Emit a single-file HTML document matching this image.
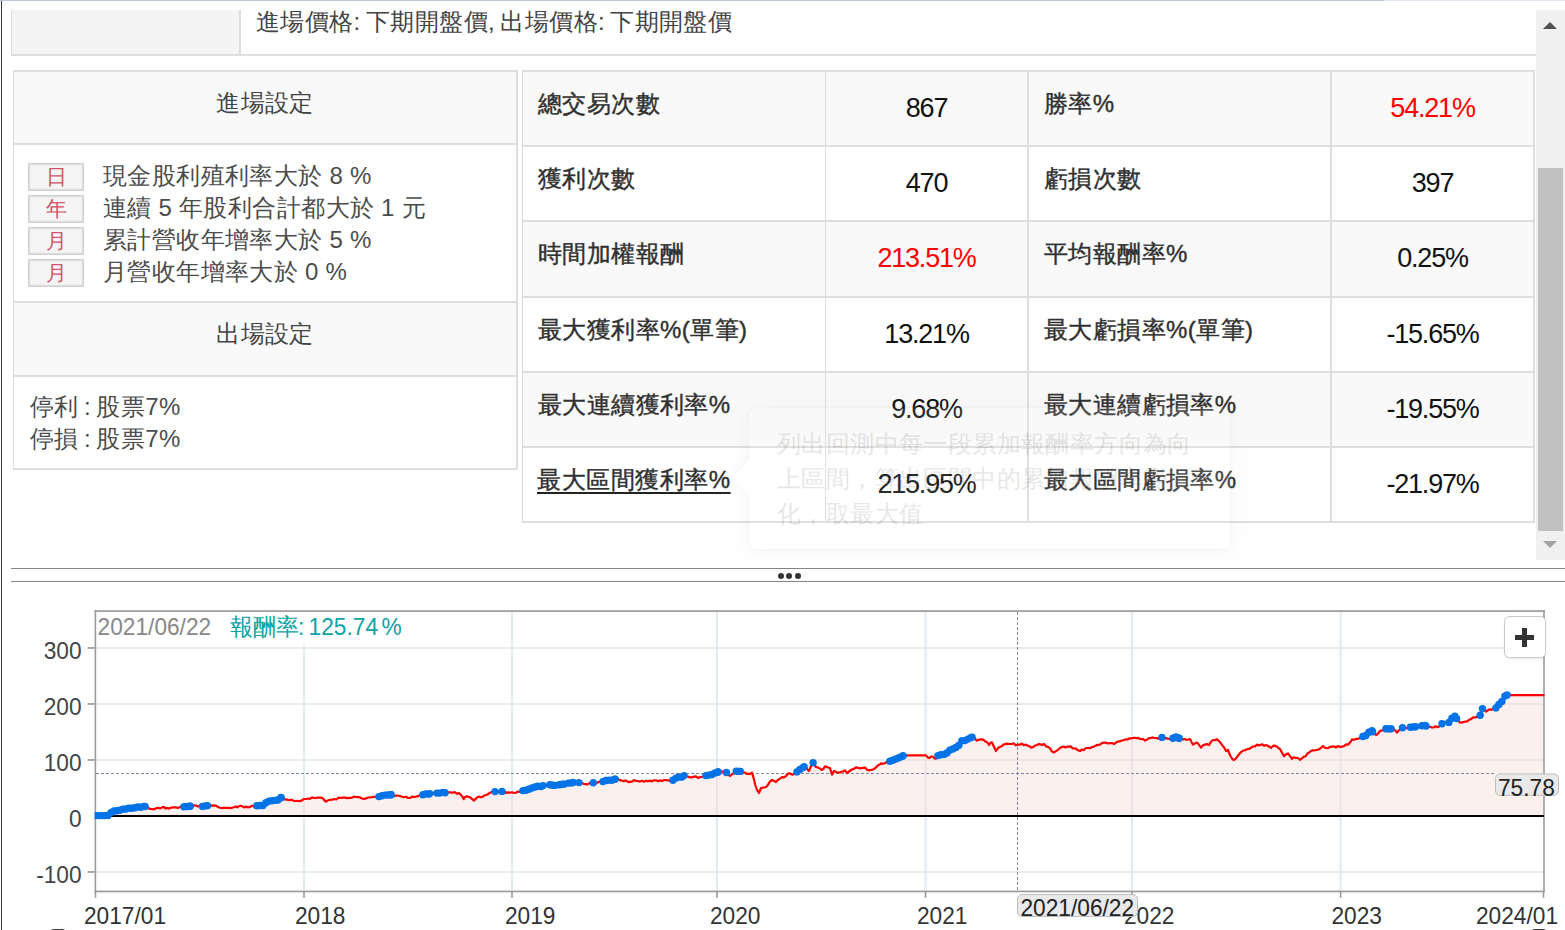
<!DOCTYPE html>
<html lang="zh-Hant">
<head>
<meta charset="utf-8">
<title>回測報告</title>
<style>
html,body{margin:0;padding:0}
body{position:relative;width:1565px;height:930px;overflow:hidden;background:#fff;color:#444;
  font-family:"Liberation Sans",sans-serif;font-size:24px;letter-spacing:.4px}
*{box-sizing:border-box}
.abs{position:absolute}
#topline{position:absolute;left:0;top:0;width:1565px;height:1px;background:#dbe3ee}
#topline i{position:absolute;left:0;top:0;width:1384px;height:1px;background:#bcc7d6}
#leftedge{position:absolute;left:1px;top:1px;width:1px;height:929px;background:#3a3a3a}

.j{text-align:justify;text-align-last:justify}
/* upper scroll pane */
#upper{position:absolute;left:0;top:10px;width:1565px;height:550px;overflow:hidden}

/* price bar (clipped top row) */
#pricebar{position:absolute;left:11px;top:-20px;width:1525px;height:66px;border-bottom:2px solid #dedede}
#pricebar .k{position:absolute;left:0;top:0;width:230px;height:64px;background:#f4f4f4;
  border-left:1px solid #dcdcdc;border-right:2px solid #dedede}
#pricebar .v{position:absolute;left:245px;top:18px;word-spacing:-1.8px;height:28px;line-height:28px;white-space:nowrap;color:#444}

/* entry / exit settings */
#entry{position:absolute;left:13px;top:60px;width:505px;height:400px;
  border:2px solid #dedede;border-left-width:1px;background:#fff}
#entry .h{position:absolute;left:0;width:502px;background:#f9f9f9;text-align:center;color:#444;
  border-bottom:2px solid #dedede}
#entry .h span{position:absolute;left:202.2px;width:97.7px;height:28px;line-height:28px}
#entry .h1{top:0;height:73px}
#entry .h1 span{top:17px}
#entry .h2{top:229px;height:76px;border-top:2px solid #dedede}
#entry .h2 span{top:17px}
.cond{position:absolute;left:14px;height:32px;width:480px;white-space:nowrap}
.cond b{position:absolute;left:0;top:2px;width:56px;height:28px;border:1px solid #d0d0d0;border-radius:0;
  background:#f5f5f5;box-shadow:inset 0 0 0 1px #dedede,inset 0 0 3px 1px #e6e6e6;color:#cc5566;font-weight:normal;font-size:20.5px;
  line-height:26px;text-align:center;letter-spacing:0}
.cond span{position:absolute;left:75px;top:-1px;word-spacing:-.3px;height:32px;line-height:32px;color:#4c4c4c}
.exitl{position:absolute;left:16px;word-spacing:-1.8px;height:32px;line-height:32px;white-space:nowrap;color:#4c4c4c}

/* stats table */
#stats{position:absolute;left:522px;top:60px;border-collapse:separate;border-spacing:0;table-layout:fixed;
  width:1013px;border-top:2px solid #dedede;border-left:1px solid #d8d8d8}
#stats td{height:75px;padding:0;border-bottom:2px solid #dedede;border-right:2px solid #dedede;
  vertical-align:top;white-space:nowrap;overflow:hidden}
#stats tr.g td{background:#f9f9f9}
#stats tr.r3 td{height:76px}
#stats td.l{font-weight:normal;color:#303030;-webkit-text-stroke:.4px #303030;padding-left:15px}
#stats td.l span{display:block;height:28px;line-height:28px;margin-top:18px}
#stats td.l1{border-right:1px solid #dcdcdc}
#stats td.n{text-align:center;color:#111;font-size:27px;letter-spacing:-1.2px}
#stats td.n span{display:block;height:30px;line-height:30px;margin-top:20.5px}
#stats td.red{color:#f00}
#stats u{text-decoration:underline;text-decoration-thickness:2.4px;text-underline-offset:4px;text-decoration-skip-ink:none;text-decoration-color:#222;padding-right:3px;margin-left:-1px}

/* fading tooltip */
#tip{position:absolute;left:748px;top:397px;width:483px;height:143px;border-radius:9px;background:#fff;
  box-shadow:0 3px 16px rgba(0,0,0,.35);opacity:.105;color:#222;border:1px solid rgba(0,0,0,.3)}
#tip p{position:absolute;left:28px;top:18px;margin:0;width:430px;line-height:35.2px}
#tip i{position:absolute;left:-14px;top:57px;width:26px;height:26px;background:#fff;transform:rotate(45deg);border-left:1px solid rgba(0,0,0,.3);border-bottom:1px solid rgba(0,0,0,.3);box-shadow:-3px 3px 8px rgba(0,0,0,.15)}

/* scrollbar */
#sb{position:absolute;left:1536px;top:0;width:29px;height:550px;background:#f0f0f0}
#sb .th{position:absolute;left:2px;top:158px;width:25px;height:363px;background:#c1c1c1}
#sb .up{position:absolute;left:7px;top:12px;width:0;height:0;border-left:7px solid transparent;
  border-right:7px solid transparent;border-bottom:7px solid #505050}
#sb .dn{position:absolute;left:7px;top:531px;width:0;height:0;border-left:7px solid transparent;
  border-right:7px solid transparent;border-top:7px solid #a3a3a3}

/* splitter */
#split{position:absolute;left:11px;top:568px;width:1554px;height:14px;border-top:1px solid #858585;
  border-bottom:1px solid #858585}
#split span{position:absolute;top:4px;width:6px;height:6px;border-radius:3px;background:#333}

/* chart */
#chart{position:absolute;left:0;top:590px;width:1565px;height:340px}
#chart svg{position:absolute;left:0;top:0}
#chart text{font-family:"Liberation Sans",sans-serif;font-size:22.7px;letter-spacing:0}
#plus{position:absolute;left:1504px;top:26px;width:42px;height:42px;border:1px solid #c9c9c9;border-radius:5.5px;
  background:#fff;box-shadow:0 1px 2px rgba(0,0,0,.08)}
#plus i{position:absolute;background:#333}
#plus .hb{left:9.6px;top:18px;width:19.2px;height:5px}
#plus .vb{left:16.6px;top:11.2px;width:5.2px;height:18.6px}
.knob{position:absolute;top:339px;width:18px;height:10px;border-radius:9px;background:#3b3b3b}
</style>
</head>
<body>
<div id="topline"><i></i></div>
<div id="leftedge"></div>

<div id="upper">
  <div id="pricebar">
    <div class="k"></div>
    <div class="v j" style="width:476.3px">進場價格: 下期開盤價, 出場價格: 下期開盤價</div>
  </div>

  <div id="entry">
    <div class="h h1"><span class="j">進場設定</span></div>
    <div class="cond" style="top:89px"><b>日</b><span class="j" style="width:268.7px">現金股利殖利率大於 8 %</span></div>
    <div class="cond" style="top:121px"><b>年</b><span class="j" style="width:323.0px">連續 5 年股利合計都大於 1 元</span></div>
    <div class="cond" style="top:153px"><b>月</b><span class="j" style="width:268.7px">累計營收年增率大於 5 %</span></div>
    <div class="cond" style="top:185px"><b>月</b><span class="j" style="width:244.3px">月營收年增率大於 0 %</span></div>
    <div class="h h2"><span class="j">出場設定</span></div>
    <div class="exitl j" style="top:318.5px;width:150.8px">停利 : 股票7%</div>
    <div class="exitl j" style="top:350.5px;width:150.8px">停損 : 股票7%</div>
  </div>

  <table id="stats">
    <colgroup><col style="width:303px"><col style="width:203px"><col style="width:303px"><col style="width:203px"></colgroup>
    <tr class="g"><td class="l l1"><span class="j" style="width:122.1px">總交易次數</span></td><td class="n"><span>867</span></td><td class="l"><span class="j" style="width:70.6px">勝率%</span></td><td class="n red"><span>54.21%</span></td></tr>
    <tr><td class="l l1"><span class="j" style="width:97.7px">獲利次數</span></td><td class="n"><span>470</span></td><td class="l"><span class="j" style="width:97.7px">虧損次數</span></td><td class="n"><span>397</span></td></tr>
    <tr class="g r3"><td class="l l1"><span class="j" style="width:146.5px">時間加權報酬</span></td><td class="n red"><span>213.51%</span></td><td class="l"><span class="j" style="width:143.8px">平均報酬率%</span></td><td class="n"><span>0.25%</span></td></tr>
    <tr><td class="l l1"><span class="j" style="width:209.4px">最大獲利率%(單筆)</span></td><td class="n"><span>13.21%</span></td><td class="l"><span class="j" style="width:209.4px">最大虧損率%(單筆)</span></td><td class="n"><span>-15.65%</span></td></tr>
    <tr class="g"><td class="l l1"><span class="j" style="width:192.6px">最大連續獲利率%</span></td><td class="n"><span>9.68%</span></td><td class="l"><span class="j" style="width:192.6px">最大連續虧損率%</span></td><td class="n"><span>-19.55%</span></td></tr>
    <tr><td class="l l1"><span class="j" style="width:195.6px"><u>最大區間獲利率%</u></span></td><td class="n"><span>215.95%</span></td><td class="l"><span class="j" style="width:192.6px">最大區間虧損率%</span></td><td class="n"><span>-21.97%</span></td></tr>
  </table>

  <div id="tip"><i></i><p>列出回測中每一段累加報酬率方向為向上區間，算出區間中的累加報酬率變化，取最大值</p></div>

  <div id="sb"><div class="up"></div><div class="th"></div><div class="dn"></div></div>
</div>

<div id="split"><span style="left:767px"></span><span style="left:775px"></span><span style="left:784px"></span></div>

<div id="chart">
<svg width="1565" height="340" viewBox="0 0 1565 340">
<defs><clipPath id="pc"><rect x="94.6" y="21" width="1450" height="281"/></clipPath></defs>
<rect x="96" y="21" width="1448" height="280" fill="#fff"/>
<rect x="96" y="57" width="1448" height="2" fill="#ebebeb"/>
<rect x="96" y="113" width="1448" height="2" fill="#ebebeb"/>
<rect x="96" y="169" width="1448" height="2" fill="#ebebeb"/>
<rect x="96" y="281" width="1448" height="2" fill="#ebebeb"/>
<rect x="303" y="21" width="2" height="280" fill="#dfeaf3"/>
<rect x="511" y="21" width="2" height="280" fill="#dfeaf3"/>
<rect x="716" y="21" width="2" height="280" fill="#dfeaf3"/>
<rect x="924.5" y="21" width="2" height="280" fill="#dfeaf3"/>
<rect x="1131" y="21" width="2" height="280" fill="#dfeaf3"/>
<rect x="1339.6" y="21" width="2" height="280" fill="#dfeaf3"/>
<path d="M96,226 L96,225.6 L108,225.6 L110,223.5 L112,222 L114,220.9 L116,221.4 L118,219.9 L120,220.4 L122,219.6 L124,218.6 L126,219 L128,218.8 L130,217.8 L132,218.3 L134,217.4 L136,218 L138,216.9 L140,217.1 L142,217.4 L144,216.4 L146,216.6 L148,217.6 L150,219 L152,219 L154,219.3 L156,218.3 L158,217.7 L160,218.5 L162,217.4 L163.8,216.9 L165.5,218.6 L167.2,217.9 L169,218.6 L171.2,217.6 L173.4,217.3 L175.6,217.3 L177.8,217.9 L180,217 L182,216.3 L184,216.8 L186,216.8 L188,216.1 L190,216.3 L192,216 L194,215.3 L196,215.5 L198,216.4 L200,215.7 L202,216.5 L204,216 L206,215.8 L208,215.5 L210,216 L212,215.6 L214,215.3 L216,215.6 L218,217 L220,217.7 L222,218.2 L224,217.6 L226,218 L228,217.7 L230,218.2 L232,217.8 L234,217.2 L235.7,216.5 L237.3,217.4 L239,216.2 L240.8,215.8 L242.6,216.5 L244.4,217.4 L246.2,216.5 L248,217.4 L250,216.9 L252,215.7 L254,216.4 L256,215.6 L258,215.9 L260,215.4 L262,215.8 L264,215 L266,212.7 L268,211 L270,211.2 L272,210.8 L274,210.5 L276,210.1 L278,210 L280,208.8 L282,206.4 L283.5,208.7 L285,209.4 L287.2,209.7 L289.4,210.3 L291.6,209.6 L293.8,211 L296,211 L298,210.9 L300,211.1 L302,210.4 L304,209 L306,209 L308,208.5 L310,208.8 L312,207.4 L314,208 L315.8,208 L317.6,207.6 L319.4,207.6 L321.2,207.5 L323,208.4 L324.5,210.5 L326,211.6 L328,210.3 L330,209.8 L332,209.6 L334.2,209 L336.4,209.5 L338.6,207.6 L340.8,207.9 L343,207.6 L345.2,207.6 L347.3,208.1 L349.5,207.9 L351.7,207.9 L353.8,206.7 L356,207 L358,207.1 L360,207.3 L362,208.5 L364,208.9 L366,208.4 L368,207.5 L370,207.3 L372,207.1 L374,206.8 L376,207 L378,206.7 L380,206.6 L382,205.7 L384,204.9 L386,205.4 L388,205 L390,205 L392,204.6 L394,205.8 L396,205.6 L398,205.7 L400,206 L402,206.7 L404,207.3 L406,206.7 L408,208 L410,208 L412,206.6 L414,206.8 L416,206.6 L418,206.2 L420,205.1 L422,205 L424,204.6 L426,203.9 L428,204.6 L430,203.4 L432,204 L434,203.1 L436,203.2 L438,203 L440,203.1 L442,202.5 L444,202.2 L446,203 L448.2,202.4 L450.3,202.3 L452.5,202.8 L454.7,202.1 L456.8,203.7 L459,203 L460.5,204.7 L462,206 L463.6,209 L465,207 L467,206.4 L469,207 L470.7,207.8 L472.3,209.1 L474,210.6 L475.5,208.9 L477,207.6 L478.8,206.4 L480.6,207.2 L482.4,206.9 L484.2,205.5 L486,205 L487.8,204.3 L489.6,202.9 L491.4,202.2 L493.2,202 L495,201.6 L496.8,201.1 L498.5,202.1 L500.2,200.8 L502,201.4 L504,200.9 L506,202.9 L508,202.4 L510,202.7 L512,202.2 L514,203 L516,202.7 L518,201.5 L520,202 L522,201.1 L524,200 L526,200.4 L528,199.7 L530,198.9 L532,198 L534.2,197.1 L536.4,196.8 L538.6,196 L540.8,196.6 L543,195.6 L544.8,195.5 L546.6,195.9 L548.4,194.9 L550.2,194.6 L552,195 L554,195.4 L556,195.5 L558,195 L560,194.8 L562,194 L563.8,194.4 L565.6,194 L567.4,192.9 L569.2,193.2 L571,193 L572.8,192.6 L574.5,192 L576.2,191.9 L578,192.6 L580,192.7 L582,193.1 L584,194 L585.8,194.1 L587.6,194.3 L589.4,193.1 L591.2,193.7 L593,192.6 L594.8,193.4 L596.6,193.2 L598.4,192 L600.2,191.6 L602,192 L604,191 L606,190.5 L608,190 L610,190.3 L612,190.3 L614,189.7 L616,188.6 L618,189.2 L620,190.2 L622,190.6 L623.8,191.3 L625.6,190.3 L627.4,191.5 L629.2,192.1 L631,191.6 L632.5,191.3 L634,190 L636,191 L638,191 L640,191.6 L642,190.8 L644,191.7 L646,190.7 L648,191.3 L650,190.6 L652,191.4 L654,190.3 L656,190.3 L658,191.2 L660,190.4 L662,190.9 L664,190 L666,190.1 L668,190.3 L670,191 L672,190.7 L674,189.6 L676,188 L678,186.8 L680,187.4 L682,187.1 L684,185.6 L686,186.5 L688,186.5 L690,187.4 L692,187.4 L694,186.6 L696,186.3 L698,187.9 L700,187 L702,186.8 L704,186.1 L706,185.6 L708,185.8 L710,184.3 L712,184.5 L714,183.8 L716,182.1 L718,182 L720,181.6 L722,181.6 L724,181.5 L726,182 L728,184.2 L730,186 L732,184.2 L734,183.2 L736,181.3 L738,180.6 L739.7,181.7 L741.3,181 L743,181.6 L745,182.7 L747,184 L748.7,183.7 L750.3,183.8 L752,182.6 L753.7,188.3 L755.3,195 L757,200 L759,203 L761,198 L762.7,197.7 L764.3,197.4 L766,197 L768,194.7 L770,191.5 L772,190 L774,190.9 L776,192 L778,189.7 L780,188.6 L782,187.1 L784,187.4 L786,186 L788,183.6 L789.7,183.3 L791.3,184.2 L793,184.6 L794.7,183.8 L796.3,182.3 L798,181 L799.8,179.4 L801.5,178.5 L803.2,177.3 L805,176 L807,179 L809,181 L811,176.1 L813,172.6 L814.5,174.9 L816,177 L818,177.5 L820,178.6 L822,180 L823.5,178.7 L825,176.4 L826.7,176.9 L828.3,177.6 L830,178 L832,184.6 L834,181 L836,181.9 L838,182.7 L840,182.4 L841.7,181.6 L843.3,181.3 L845,180.4 L847,183 L849,181.5 L851,180 L852.7,179.2 L854.3,178.6 L856,177.4 L858,177.8 L860,178.4 L861.7,178.2 L863.3,177.8 L865,177.6 L867,179.8 L869,180.4 L870.8,180 L872.5,179.6 L874.2,178.9 L876,177.4 L877.7,175.6 L879.3,174.8 L881,173.4 L883,173.8 L885,173.3 L887,171.7 L889,172 L890.8,170.6 L892.6,170.5 L894.4,169.2 L896.2,168.8 L898,168.6 L900,166.6 L902,166.5 L904,165 L906,165.7 L908,165.4 L926,165.4 L928,167.6 L929.5,167.8 L931,166.6 L932.7,166.6 L934.3,168.3 L936,168.6 L938,165.4 L940,165.4 L942,164.1 L944,164.4 L946,163.6 L948,162.3 L950,160 L952,158.6 L954,159.1 L956,157.3 L958,156.6 L960,153.6 L962,150.6 L964,150.9 L966,150.1 L968,149 L969.7,147.7 L971.3,147.5 L973,147 L975,148.8 L977,150.6 L978.7,149.9 L980.3,149.3 L982,149.4 L983.7,149.9 L985.3,151.5 L987,152 L989,155 L990.5,152.8 L992,152.4 L994,156.8 L996,161 L998,158 L1000,156.9 L1002,156 L1003.7,154.3 L1005.3,154.1 L1007,153.6 L1009.2,154 L1011.4,154 L1013.6,153.4 L1015.8,155.3 L1018,154.6 L1020,154.6 L1022,153.6 L1023.8,155.2 L1025.6,154.5 L1027.4,155.6 L1029.2,156 L1031,157.6 L1033,157.2 L1035,155.5 L1037,155 L1038.8,154.1 L1040.5,154.4 L1042.2,155 L1044,154 L1046,156.3 L1048,156.9 L1050,158.4 L1052,161.5 L1054,162.4 L1056,161.1 L1058,159.8 L1060,158 L1061.8,157 L1063.6,156.6 L1065.4,157.5 L1067.2,156.7 L1069,156.6 L1070.8,156.3 L1072.5,158.4 L1074.2,158.3 L1076,158.6 L1078,160.3 L1080,161 L1082,159.5 L1084,160.1 L1086,158 L1088,158 L1090,158.2 L1092,157 L1094,156.6 L1096,155.4 L1098,154.9 L1100,154.7 L1102,153 L1104,152.7 L1106,152.7 L1108,153.5 L1110,153.2 L1112,153.1 L1114,154 L1116,152.6 L1118,151.6 L1120,151.1 L1122,150.5 L1124,150 L1125.8,149.2 L1127.6,149.7 L1129.4,148.4 L1131.2,148.4 L1133,148 L1134.8,147.7 L1136.5,148.2 L1138.2,147.9 L1140,149 L1141.7,149.1 L1143.3,149.2 L1145,150.6 L1147,149.7 L1149,148 L1150.8,148.1 L1152.5,147.4 L1154.2,148 L1156,148 L1158,148.6 L1160,146.9 L1162,147.4 L1164,148.4 L1166,148.1 L1168,148.6 L1170,149 L1172,148.9 L1174,147.5 L1176,147 L1177.8,147.6 L1179.5,148.5 L1181.2,149.7 L1183,149.4 L1184.8,149 L1186.5,149.8 L1188.2,149.5 L1190,149 L1191.5,152 L1193,154.6 L1195,153.4 L1197,152.6 L1199,154.8 L1201,157.6 L1203,155.3 L1205,154.6 L1207,154.1 L1209,155 L1211,151.7 L1213,150 L1215,150.1 L1217,149.4 L1218.7,150.8 L1220.3,152.5 L1222,155 L1224,157.3 L1226,161 L1228,160 L1229.5,164.1 L1231,167 L1232.5,169.2 L1234,170 L1235.5,168.8 L1237,167 L1238.7,164.7 L1240.3,162.8 L1242,161.4 L1243.8,160.4 L1245.5,160.1 L1247.2,159 L1249,159 L1251,157.8 L1253,156.4 L1255,156.5 L1257,154.6 L1258.8,155.5 L1260.6,154.8 L1262.4,154.4 L1264.2,155.8 L1266,155 L1267.7,155.7 L1269.3,156.7 L1271,158 L1273,155.9 L1275,155.6 L1276.7,156.5 L1278.3,157.8 L1280,159 L1282,162.6 L1284,166.2 L1286,164.3 L1288,163.4 L1290,166.1 L1292,168.8 L1293.5,167.3 L1295,167.6 L1296.7,167.9 L1298.3,168.3 L1300,169.8 L1301.8,168.5 L1303.7,166.7 L1305.5,166.4 L1307.3,163.7 L1309.2,162.4 L1311,161 L1312.8,160.2 L1314.5,160.5 L1316.2,160 L1318,159.6 L1319.7,158.9 L1321.3,157.5 L1323,156 L1324.5,157.4 L1326,158 L1328,158.2 L1330,156.9 L1332,156.6 L1334,156.3 L1336,157.5 L1338,156 L1340,157 L1342,156.6 L1344,156.2 L1346,154.4 L1348,154.6 L1350,152.6 L1352,149.4 L1354,149.8 L1356,148.9 L1358,148.8 L1360,148 L1361.8,147.8 L1363.5,145.9 L1365.2,145.8 L1367,145 L1369,142.2 L1371,139.4 L1372.7,141.9 L1374.3,143.7 L1376,145 L1378,143.6 L1380,141 L1382,140.4 L1384,140.1 L1386,138.6 L1388,138.9 L1390,138.9 L1392,138.6 L1393.7,139.4 L1395.3,140.4 L1397,142.6 L1398.7,140.4 L1400.3,139.3 L1402,138 L1404,137.1 L1406,138.2 L1408,137.5 L1410,137.4 L1412,137 L1414,136.9 L1416,136.7 L1418,136 L1420,134.8 L1422,135.9 L1424,135 L1426,136 L1428,136.2 L1430,136.9 L1432,137.4 L1433.8,137.5 L1435.5,136.2 L1437.2,137.2 L1439,136.6 L1441,134.4 L1443,133 L1444.8,132 L1446.5,132.1 L1448.2,132.7 L1450,132 L1452,128 L1454,125 L1456,127.9 L1458,130 L1459.5,132.2 L1461,132.6 L1463,132.2 L1465,131.6 L1467,131.4 L1469,130 L1471,129.1 L1473,127.4 L1474.8,127.5 L1476.5,126.9 L1478.2,126.6 L1480,126 L1481.5,121.5 L1483,118.6 L1484.5,119.5 L1486,121.6 L1488,120.1 L1490,119.4 L1491.7,119.6 L1493.3,118.5 L1495,118.6 L1497,117.1 L1499,114.4 L1501,113.6 L1502.5,109.9 L1504.1,107.5 L1505.6,105 L1543.5,105.2 L1543.5,226 Z" fill="#f7dcd8" fill-opacity=".42"/>
<rect x="94.6" y="20.2" width="1.6" height="281.8" fill="#9b9b9b"/>
<rect x="94.6" y="20.2" width="1450.2" height="1.7" fill="#9b9b9b"/>
<rect x="1543.2" y="20.2" width="1.6" height="281.8" fill="#9b9b9b"/>
<rect x="94.6" y="300.6" width="1450.2" height="1.7" fill="#9b9b9b"/>
<rect x="96" y="225" width="1448" height="2" fill="#000"/>
<line x1="96" y1="183.5" x2="1496" y2="183.5" stroke="#747c98" stroke-width=".9" stroke-dasharray="3 2"/>
<line x1="1017.5" y1="22" x2="1017.5" y2="301" stroke="#747c98" stroke-width=".9" stroke-dasharray="3 2"/>
<path d="M96,225.6 L108,225.6 L110,223.5 L112,222 L114,220.9 L116,221.4 L118,219.9 L120,220.4 L122,219.6 L124,218.6 L126,219 L128,218.8 L130,217.8 L132,218.3 L134,217.4 L136,218 L138,216.9 L140,217.1 L142,217.4 L144,216.4 L146,216.6 L148,217.6 L150,219 L152,219 L154,219.3 L156,218.3 L158,217.7 L160,218.5 L162,217.4 L163.8,216.9 L165.5,218.6 L167.2,217.9 L169,218.6 L171.2,217.6 L173.4,217.3 L175.6,217.3 L177.8,217.9 L180,217 L182,216.3 L184,216.8 L186,216.8 L188,216.1 L190,216.3 L192,216 L194,215.3 L196,215.5 L198,216.4 L200,215.7 L202,216.5 L204,216 L206,215.8 L208,215.5 L210,216 L212,215.6 L214,215.3 L216,215.6 L218,217 L220,217.7 L222,218.2 L224,217.6 L226,218 L228,217.7 L230,218.2 L232,217.8 L234,217.2 L235.7,216.5 L237.3,217.4 L239,216.2 L240.8,215.8 L242.6,216.5 L244.4,217.4 L246.2,216.5 L248,217.4 L250,216.9 L252,215.7 L254,216.4 L256,215.6 L258,215.9 L260,215.4 L262,215.8 L264,215 L266,212.7 L268,211 L270,211.2 L272,210.8 L274,210.5 L276,210.1 L278,210 L280,208.8 L282,206.4 L283.5,208.7 L285,209.4 L287.2,209.7 L289.4,210.3 L291.6,209.6 L293.8,211 L296,211 L298,210.9 L300,211.1 L302,210.4 L304,209 L306,209 L308,208.5 L310,208.8 L312,207.4 L314,208 L315.8,208 L317.6,207.6 L319.4,207.6 L321.2,207.5 L323,208.4 L324.5,210.5 L326,211.6 L328,210.3 L330,209.8 L332,209.6 L334.2,209 L336.4,209.5 L338.6,207.6 L340.8,207.9 L343,207.6 L345.2,207.6 L347.3,208.1 L349.5,207.9 L351.7,207.9 L353.8,206.7 L356,207 L358,207.1 L360,207.3 L362,208.5 L364,208.9 L366,208.4 L368,207.5 L370,207.3 L372,207.1 L374,206.8 L376,207 L378,206.7 L380,206.6 L382,205.7 L384,204.9 L386,205.4 L388,205 L390,205 L392,204.6 L394,205.8 L396,205.6 L398,205.7 L400,206 L402,206.7 L404,207.3 L406,206.7 L408,208 L410,208 L412,206.6 L414,206.8 L416,206.6 L418,206.2 L420,205.1 L422,205 L424,204.6 L426,203.9 L428,204.6 L430,203.4 L432,204 L434,203.1 L436,203.2 L438,203 L440,203.1 L442,202.5 L444,202.2 L446,203 L448.2,202.4 L450.3,202.3 L452.5,202.8 L454.7,202.1 L456.8,203.7 L459,203 L460.5,204.7 L462,206 L463.6,209 L465,207 L467,206.4 L469,207 L470.7,207.8 L472.3,209.1 L474,210.6 L475.5,208.9 L477,207.6 L478.8,206.4 L480.6,207.2 L482.4,206.9 L484.2,205.5 L486,205 L487.8,204.3 L489.6,202.9 L491.4,202.2 L493.2,202 L495,201.6 L496.8,201.1 L498.5,202.1 L500.2,200.8 L502,201.4 L504,200.9 L506,202.9 L508,202.4 L510,202.7 L512,202.2 L514,203 L516,202.7 L518,201.5 L520,202 L522,201.1 L524,200 L526,200.4 L528,199.7 L530,198.9 L532,198 L534.2,197.1 L536.4,196.8 L538.6,196 L540.8,196.6 L543,195.6 L544.8,195.5 L546.6,195.9 L548.4,194.9 L550.2,194.6 L552,195 L554,195.4 L556,195.5 L558,195 L560,194.8 L562,194 L563.8,194.4 L565.6,194 L567.4,192.9 L569.2,193.2 L571,193 L572.8,192.6 L574.5,192 L576.2,191.9 L578,192.6 L580,192.7 L582,193.1 L584,194 L585.8,194.1 L587.6,194.3 L589.4,193.1 L591.2,193.7 L593,192.6 L594.8,193.4 L596.6,193.2 L598.4,192 L600.2,191.6 L602,192 L604,191 L606,190.5 L608,190 L610,190.3 L612,190.3 L614,189.7 L616,188.6 L618,189.2 L620,190.2 L622,190.6 L623.8,191.3 L625.6,190.3 L627.4,191.5 L629.2,192.1 L631,191.6 L632.5,191.3 L634,190 L636,191 L638,191 L640,191.6 L642,190.8 L644,191.7 L646,190.7 L648,191.3 L650,190.6 L652,191.4 L654,190.3 L656,190.3 L658,191.2 L660,190.4 L662,190.9 L664,190 L666,190.1 L668,190.3 L670,191 L672,190.7 L674,189.6 L676,188 L678,186.8 L680,187.4 L682,187.1 L684,185.6 L686,186.5 L688,186.5 L690,187.4 L692,187.4 L694,186.6 L696,186.3 L698,187.9 L700,187 L702,186.8 L704,186.1 L706,185.6 L708,185.8 L710,184.3 L712,184.5 L714,183.8 L716,182.1 L718,182 L720,181.6 L722,181.6 L724,181.5 L726,182 L728,184.2 L730,186 L732,184.2 L734,183.2 L736,181.3 L738,180.6 L739.7,181.7 L741.3,181 L743,181.6 L745,182.7 L747,184 L748.7,183.7 L750.3,183.8 L752,182.6 L753.7,188.3 L755.3,195 L757,200 L759,203 L761,198 L762.7,197.7 L764.3,197.4 L766,197 L768,194.7 L770,191.5 L772,190 L774,190.9 L776,192 L778,189.7 L780,188.6 L782,187.1 L784,187.4 L786,186 L788,183.6 L789.7,183.3 L791.3,184.2 L793,184.6 L794.7,183.8 L796.3,182.3 L798,181 L799.8,179.4 L801.5,178.5 L803.2,177.3 L805,176 L807,179 L809,181 L811,176.1 L813,172.6 L814.5,174.9 L816,177 L818,177.5 L820,178.6 L822,180 L823.5,178.7 L825,176.4 L826.7,176.9 L828.3,177.6 L830,178 L832,184.6 L834,181 L836,181.9 L838,182.7 L840,182.4 L841.7,181.6 L843.3,181.3 L845,180.4 L847,183 L849,181.5 L851,180 L852.7,179.2 L854.3,178.6 L856,177.4 L858,177.8 L860,178.4 L861.7,178.2 L863.3,177.8 L865,177.6 L867,179.8 L869,180.4 L870.8,180 L872.5,179.6 L874.2,178.9 L876,177.4 L877.7,175.6 L879.3,174.8 L881,173.4 L883,173.8 L885,173.3 L887,171.7 L889,172 L890.8,170.6 L892.6,170.5 L894.4,169.2 L896.2,168.8 L898,168.6 L900,166.6 L902,166.5 L904,165 L906,165.7 L908,165.4 L926,165.4 L928,167.6 L929.5,167.8 L931,166.6 L932.7,166.6 L934.3,168.3 L936,168.6 L938,165.4 L940,165.4 L942,164.1 L944,164.4 L946,163.6 L948,162.3 L950,160 L952,158.6 L954,159.1 L956,157.3 L958,156.6 L960,153.6 L962,150.6 L964,150.9 L966,150.1 L968,149 L969.7,147.7 L971.3,147.5 L973,147 L975,148.8 L977,150.6 L978.7,149.9 L980.3,149.3 L982,149.4 L983.7,149.9 L985.3,151.5 L987,152 L989,155 L990.5,152.8 L992,152.4 L994,156.8 L996,161 L998,158 L1000,156.9 L1002,156 L1003.7,154.3 L1005.3,154.1 L1007,153.6 L1009.2,154 L1011.4,154 L1013.6,153.4 L1015.8,155.3 L1018,154.6 L1020,154.6 L1022,153.6 L1023.8,155.2 L1025.6,154.5 L1027.4,155.6 L1029.2,156 L1031,157.6 L1033,157.2 L1035,155.5 L1037,155 L1038.8,154.1 L1040.5,154.4 L1042.2,155 L1044,154 L1046,156.3 L1048,156.9 L1050,158.4 L1052,161.5 L1054,162.4 L1056,161.1 L1058,159.8 L1060,158 L1061.8,157 L1063.6,156.6 L1065.4,157.5 L1067.2,156.7 L1069,156.6 L1070.8,156.3 L1072.5,158.4 L1074.2,158.3 L1076,158.6 L1078,160.3 L1080,161 L1082,159.5 L1084,160.1 L1086,158 L1088,158 L1090,158.2 L1092,157 L1094,156.6 L1096,155.4 L1098,154.9 L1100,154.7 L1102,153 L1104,152.7 L1106,152.7 L1108,153.5 L1110,153.2 L1112,153.1 L1114,154 L1116,152.6 L1118,151.6 L1120,151.1 L1122,150.5 L1124,150 L1125.8,149.2 L1127.6,149.7 L1129.4,148.4 L1131.2,148.4 L1133,148 L1134.8,147.7 L1136.5,148.2 L1138.2,147.9 L1140,149 L1141.7,149.1 L1143.3,149.2 L1145,150.6 L1147,149.7 L1149,148 L1150.8,148.1 L1152.5,147.4 L1154.2,148 L1156,148 L1158,148.6 L1160,146.9 L1162,147.4 L1164,148.4 L1166,148.1 L1168,148.6 L1170,149 L1172,148.9 L1174,147.5 L1176,147 L1177.8,147.6 L1179.5,148.5 L1181.2,149.7 L1183,149.4 L1184.8,149 L1186.5,149.8 L1188.2,149.5 L1190,149 L1191.5,152 L1193,154.6 L1195,153.4 L1197,152.6 L1199,154.8 L1201,157.6 L1203,155.3 L1205,154.6 L1207,154.1 L1209,155 L1211,151.7 L1213,150 L1215,150.1 L1217,149.4 L1218.7,150.8 L1220.3,152.5 L1222,155 L1224,157.3 L1226,161 L1228,160 L1229.5,164.1 L1231,167 L1232.5,169.2 L1234,170 L1235.5,168.8 L1237,167 L1238.7,164.7 L1240.3,162.8 L1242,161.4 L1243.8,160.4 L1245.5,160.1 L1247.2,159 L1249,159 L1251,157.8 L1253,156.4 L1255,156.5 L1257,154.6 L1258.8,155.5 L1260.6,154.8 L1262.4,154.4 L1264.2,155.8 L1266,155 L1267.7,155.7 L1269.3,156.7 L1271,158 L1273,155.9 L1275,155.6 L1276.7,156.5 L1278.3,157.8 L1280,159 L1282,162.6 L1284,166.2 L1286,164.3 L1288,163.4 L1290,166.1 L1292,168.8 L1293.5,167.3 L1295,167.6 L1296.7,167.9 L1298.3,168.3 L1300,169.8 L1301.8,168.5 L1303.7,166.7 L1305.5,166.4 L1307.3,163.7 L1309.2,162.4 L1311,161 L1312.8,160.2 L1314.5,160.5 L1316.2,160 L1318,159.6 L1319.7,158.9 L1321.3,157.5 L1323,156 L1324.5,157.4 L1326,158 L1328,158.2 L1330,156.9 L1332,156.6 L1334,156.3 L1336,157.5 L1338,156 L1340,157 L1342,156.6 L1344,156.2 L1346,154.4 L1348,154.6 L1350,152.6 L1352,149.4 L1354,149.8 L1356,148.9 L1358,148.8 L1360,148 L1361.8,147.8 L1363.5,145.9 L1365.2,145.8 L1367,145 L1369,142.2 L1371,139.4 L1372.7,141.9 L1374.3,143.7 L1376,145 L1378,143.6 L1380,141 L1382,140.4 L1384,140.1 L1386,138.6 L1388,138.9 L1390,138.9 L1392,138.6 L1393.7,139.4 L1395.3,140.4 L1397,142.6 L1398.7,140.4 L1400.3,139.3 L1402,138 L1404,137.1 L1406,138.2 L1408,137.5 L1410,137.4 L1412,137 L1414,136.9 L1416,136.7 L1418,136 L1420,134.8 L1422,135.9 L1424,135 L1426,136 L1428,136.2 L1430,136.9 L1432,137.4 L1433.8,137.5 L1435.5,136.2 L1437.2,137.2 L1439,136.6 L1441,134.4 L1443,133 L1444.8,132 L1446.5,132.1 L1448.2,132.7 L1450,132 L1452,128 L1454,125 L1456,127.9 L1458,130 L1459.5,132.2 L1461,132.6 L1463,132.2 L1465,131.6 L1467,131.4 L1469,130 L1471,129.1 L1473,127.4 L1474.8,127.5 L1476.5,126.9 L1478.2,126.6 L1480,126 L1481.5,121.5 L1483,118.6 L1484.5,119.5 L1486,121.6 L1488,120.1 L1490,119.4 L1491.7,119.6 L1493.3,118.5 L1495,118.6 L1497,117.1 L1499,114.4 L1501,113.6 L1502.5,109.9 L1504.1,107.5 L1505.6,105 L1543.5,105.2" fill="none" stroke="#f00" stroke-width="2.2" stroke-linejoin="round" stroke-linecap="round"/>
<g fill="#0073e6" clip-path="url(#pc)"><circle cx="95.9" cy="225.6" r="3.7"/><circle cx="98.9" cy="225.6" r="3.7"/><circle cx="101.9" cy="225.6" r="3.7"/><circle cx="104.9" cy="225.6" r="3.7"/><circle cx="107.9" cy="225.6" r="3.7"/><circle cx="110.9" cy="222.8" r="3.7"/><circle cx="113.9" cy="221" r="3.7"/><circle cx="116.9" cy="220.8" r="3.7"/><circle cx="119.9" cy="220.3" r="3.7"/><circle cx="122.9" cy="219.2" r="3.7"/><circle cx="125.9" cy="219" r="3.7"/><circle cx="128.9" cy="218.3" r="3.7"/><circle cx="131.9" cy="218.3" r="3.7"/><circle cx="134.9" cy="217.7" r="3.7"/><circle cx="137.9" cy="216.9" r="3.7"/><circle cx="140.9" cy="217.2" r="3.7"/><circle cx="143.9" cy="216.4" r="3.7"/><circle cx="145.1" cy="216.5" r="3.7"/><circle cx="183.9" cy="216.8" r="3.7"/><circle cx="186.9" cy="216.5" r="3.7"/><circle cx="189.9" cy="216.2" r="3.7"/><circle cx="190.1" cy="216.2" r="3.7"/><circle cx="202.4" cy="216.4" r="3.7"/><circle cx="205.4" cy="215.9" r="3.7"/><circle cx="207.6" cy="215.6" r="3.7"/><circle cx="256.9" cy="215.7" r="3.7"/><circle cx="259.9" cy="215.5" r="3.7"/><circle cx="262.9" cy="215.5" r="3.7"/><circle cx="265.9" cy="212.8" r="3.7"/><circle cx="268.9" cy="211.1" r="3.7"/><circle cx="271.9" cy="210.8" r="3.7"/><circle cx="274.9" cy="210.4" r="3.7"/><circle cx="277.9" cy="210" r="3.7"/><circle cx="280.9" cy="207.7" r="3.7"/><circle cx="281.1" cy="207.5" r="3.7"/><circle cx="378.9" cy="206.6" r="3.7"/><circle cx="381.9" cy="205.7" r="3.7"/><circle cx="384.9" cy="205.1" r="3.7"/><circle cx="387.9" cy="205" r="3.7"/><circle cx="390.9" cy="204.8" r="3.7"/><circle cx="391.1" cy="204.8" r="3.7"/><circle cx="422.9" cy="204.8" r="3.7"/><circle cx="425.9" cy="203.9" r="3.7"/><circle cx="428.9" cy="204.1" r="3.7"/><circle cx="429.7" cy="203.6" r="3.7"/><circle cx="436.9" cy="203.1" r="3.7"/><circle cx="439.9" cy="203.1" r="3.7"/><circle cx="442.9" cy="202.4" r="3.7"/><circle cx="445.1" cy="202.7" r="3.7"/><circle cx="495" cy="201.6" r="3.7"/><circle cx="502" cy="201.4" r="3.7"/><circle cx="522.9" cy="200.6" r="3.7"/><circle cx="525.9" cy="200.3" r="3.7"/><circle cx="528.9" cy="199.3" r="3.7"/><circle cx="531.9" cy="198" r="3.7"/><circle cx="534.9" cy="197" r="3.7"/><circle cx="537.9" cy="196.2" r="3.7"/><circle cx="540.9" cy="196.5" r="3.7"/><circle cx="543.1" cy="195.6" r="3.7"/><circle cx="549.9" cy="194.7" r="3.7"/><circle cx="552.9" cy="195.2" r="3.7"/><circle cx="554.9" cy="195.4" r="3.7"/><circle cx="559.4" cy="194.8" r="3.7"/><circle cx="562.4" cy="194.1" r="3.7"/><circle cx="564.1" cy="194.3" r="3.7"/><circle cx="568.4" cy="193.1" r="3.7"/><circle cx="571.4" cy="192.9" r="3.7"/><circle cx="573.1" cy="192.5" r="3.7"/><circle cx="579" cy="192.6" r="3.7"/><circle cx="593.2" cy="192.7" r="3.7"/><circle cx="602.9" cy="191.6" r="3.7"/><circle cx="605.9" cy="190.5" r="3.7"/><circle cx="608.9" cy="190.1" r="3.7"/><circle cx="611.9" cy="190.3" r="3.7"/><circle cx="614.9" cy="189.2" r="3.7"/><circle cx="615.1" cy="189.1" r="3.7"/><circle cx="672.9" cy="190.2" r="3.7"/><circle cx="675.9" cy="188.1" r="3.7"/><circle cx="678.9" cy="187" r="3.7"/><circle cx="681.9" cy="187.1" r="3.7"/><circle cx="684.1" cy="185.6" r="3.7"/><circle cx="705.9" cy="185.6" r="3.7"/><circle cx="708.9" cy="185.1" r="3.7"/><circle cx="711.9" cy="184.5" r="3.7"/><circle cx="714.9" cy="183" r="3.7"/><circle cx="717.9" cy="182" r="3.7"/><circle cx="718.1" cy="182" r="3.7"/><circle cx="726.5" cy="182.5" r="3.7"/><circle cx="736.3" cy="181.2" r="3.7"/><circle cx="739.3" cy="181.4" r="3.7"/><circle cx="740.3" cy="181.4" r="3.7"/><circle cx="796.9" cy="181.9" r="3.7"/><circle cx="799.9" cy="179.4" r="3.7"/><circle cx="802.9" cy="177.6" r="3.7"/><circle cx="804.1" cy="176.7" r="3.7"/><circle cx="813.1" cy="172.8" r="3.7"/><circle cx="889.9" cy="171.3" r="3.7"/><circle cx="892.9" cy="170.3" r="3.7"/><circle cx="895.9" cy="168.9" r="3.7"/><circle cx="898.9" cy="167.7" r="3.7"/><circle cx="901.9" cy="166.5" r="3.7"/><circle cx="903.1" cy="165.7" r="3.7"/><circle cx="937.9" cy="165.6" r="3.7"/><circle cx="940.9" cy="164.8" r="3.7"/><circle cx="943.9" cy="164.4" r="3.7"/><circle cx="946.9" cy="163" r="3.7"/><circle cx="949.9" cy="160.1" r="3.7"/><circle cx="952.9" cy="158.9" r="3.7"/><circle cx="955.9" cy="157.4" r="3.7"/><circle cx="958.9" cy="155.2" r="3.7"/><circle cx="961.9" cy="150.7" r="3.7"/><circle cx="964.9" cy="150.6" r="3.7"/><circle cx="967.9" cy="149.1" r="3.7"/><circle cx="970.9" cy="147.6" r="3.7"/><circle cx="972.1" cy="147.3" r="3.7"/><circle cx="1162" cy="147.4" r="3.7"/><circle cx="1172.9" cy="148.3" r="3.7"/><circle cx="1175.9" cy="147" r="3.7"/><circle cx="1178.9" cy="148.2" r="3.7"/><circle cx="1179.1" cy="148.3" r="3.7"/><circle cx="1362.9" cy="146.5" r="3.7"/><circle cx="1365.9" cy="145.5" r="3.7"/><circle cx="1368.9" cy="142.3" r="3.7"/><circle cx="1371.9" cy="140.7" r="3.7"/><circle cx="1372.6" cy="141.8" r="3.7"/><circle cx="1385.9" cy="138.7" r="3.7"/><circle cx="1388.9" cy="138.9" r="3.7"/><circle cx="1391.1" cy="138.8" r="3.7"/><circle cx="1402.5" cy="137.8" r="3.7"/><circle cx="1410.4" cy="137.3" r="3.7"/><circle cx="1413.4" cy="136.9" r="3.7"/><circle cx="1415.6" cy="136.7" r="3.7"/><circle cx="1421.9" cy="135.8" r="3.7"/><circle cx="1424.9" cy="135.5" r="3.7"/><circle cx="1426.1" cy="136.1" r="3.7"/><circle cx="1442" cy="133.7" r="3.7"/><circle cx="1448.9" cy="132.4" r="3.7"/><circle cx="1451.9" cy="128.2" r="3.7"/><circle cx="1454.9" cy="126.3" r="3.7"/><circle cx="1456.6" cy="128.6" r="3.7"/><circle cx="1480.2" cy="125.3" r="3.7"/><circle cx="1495.9" cy="117.9" r="3.7"/><circle cx="1498.9" cy="114.5" r="3.7"/><circle cx="1501.9" cy="111.5" r="3.7"/><circle cx="1504.9" cy="106.1" r="3.7"/><circle cx="1507.1" cy="105" r="3.7"/><circle cx="1482.5" cy="118.6" r="3.7"/></g>
<rect x="97" y="22" width="312" height="33" fill="#fff" fill-opacity=".85"/>
<text transform="translate(97.6 44.8) scale(1 1.09)" fill="#888">2021/06/22</text>
<text transform="translate(230.4 44.6) scale(1 1.04)" fill="#0ba3a3" textLength="74" lengthAdjust="spacing">報酬率:</text>
<text transform="translate(308.6 44.8) scale(1 1.09)" fill="#0ba3a3">125.74</text>
<text transform="translate(381.5 44.8) scale(1 1.09)" fill="#0ba3a3">%</text>
<rect x="87.6" y="57.1" width="7" height="1.7" fill="#9b9b9b"/>
<text transform="translate(81.6 68.5) scale(1 1.09)" fill="#444" text-anchor="end">300</text>
<rect x="87.6" y="113.1" width="7" height="1.7" fill="#9b9b9b"/>
<text transform="translate(81.6 124.5) scale(1 1.09)" fill="#444" text-anchor="end">200</text>
<rect x="87.6" y="169.1" width="7" height="1.7" fill="#9b9b9b"/>
<text transform="translate(81.6 180.5) scale(1 1.09)" fill="#444" text-anchor="end">100</text>
<text transform="translate(81.6 236.5) scale(1 1.09)" fill="#444" text-anchor="end">0</text>
<rect x="87.6" y="281.1" width="7" height="1.7" fill="#9b9b9b"/>
<text transform="translate(81.6 292.5) scale(1 1.09)" fill="#444" text-anchor="end">-100</text>
<rect x="94.7" y="301.5" width="1.6" height="6.3" fill="#9b9b9b"/>
<rect x="303.2" y="301.5" width="1.6" height="6.3" fill="#9b9b9b"/>
<rect x="511.2" y="301.5" width="1.6" height="6.3" fill="#9b9b9b"/>
<rect x="716.2" y="301.5" width="1.6" height="6.3" fill="#9b9b9b"/>
<rect x="924.7" y="301.5" width="1.6" height="6.3" fill="#9b9b9b"/>
<rect x="1131.2" y="301.5" width="1.6" height="6.3" fill="#9b9b9b"/>
<rect x="1339.8" y="301.5" width="1.6" height="6.3" fill="#9b9b9b"/>
<rect x="1542.7" y="301.5" width="1.6" height="6.3" fill="#9b9b9b"/>
<text transform="translate(84 333.7) scale(1 1.09)" fill="#333">2017/01</text>
<text transform="translate(295 333.7) scale(1 1.09)" fill="#333">2018</text>
<text transform="translate(505 333.7) scale(1 1.09)" fill="#333">2019</text>
<text transform="translate(710 333.7) scale(1 1.09)" fill="#333">2020</text>
<text transform="translate(917 333.7) scale(1 1.09)" fill="#333">2021</text>
<text transform="translate(1124 333.7) scale(1 1.09)" fill="#333">2022</text>
<text transform="translate(1331.5 333.7) scale(1 1.09)" fill="#333">2023</text>
<text transform="translate(1476 333.7) scale(1 1.09)" fill="#333">2024/01</text>
<rect x="1495.5" y="183.9" width="63" height="21.4" rx="4.5" fill="#e9e9e9" stroke="#bdbdbd"/>
<text transform="translate(1498 206.1) scale(1 1.09)" fill="#222">75.78</text>
<rect x="1017.5" y="304.5" width="120" height="22" rx="4.5" fill="#e9e9e9" stroke="#bdbdbd"/>
<text transform="translate(1020.5 326.3) scale(1 1.09)" fill="#222">2021/06/22</text>
</svg>
  <div id="plus"><i class="hb"></i><i class="vb"></i></div>
  <div class="knob" style="left:49px"></div>
  <div class="knob" style="left:1530px"></div>
</div>
</body>
</html>
